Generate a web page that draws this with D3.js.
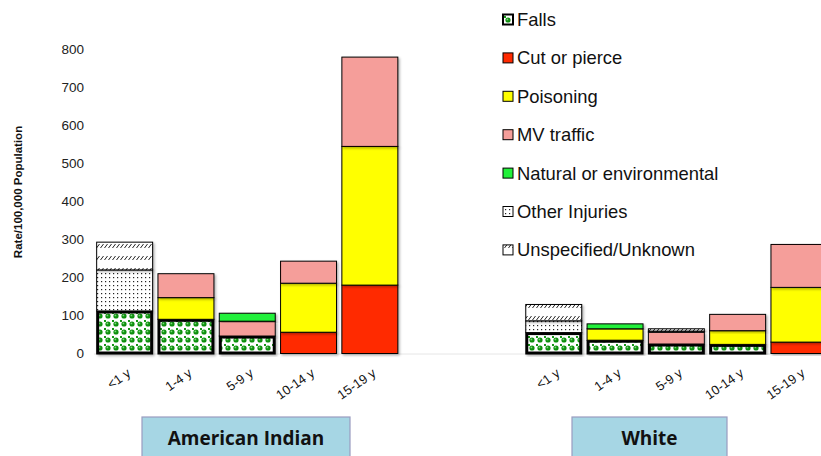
<!DOCTYPE html>
<html><head><meta charset="utf-8">
<script src="https://cdn.jsdelivr.net/npm/d3@7"></script>
<style>body{margin:0;background:#fff}svg{display:block}</style>
</head><body>
<script>
const ageGroups = ["<1 y","1-4 y","5-9 y","10-14 y","15-19 y"];
const populations = ["American Indian","White"];
const seriesNames = ["Falls","Cut or pierce","Poisoning","MV traffic","Natural or environmental","Other Injuries","Unspecified/Unknown"];
// values: 5 American Indian age groups, then 5 White age groups
const falls       = [112, 90, 46,   0,   0,  55, 35, 25, 24,   0];
const cutPierce   = [  0,  0,  0,  56, 180,   0,  0,  0,  0,  30];
const poisoning   = [  0, 57,  0, 129, 365,   0, 30,  0, 36, 144];
const mvTraffic   = [  0, 63, 39,  58, 235,   0,  0, 31, 43, 113];
const natural     = [  0,  0, 21,   0,   0,   0, 13,  0,  0,   0];
const other       = [108,  0,  0,   0,   0,  31,  0,  3,  0,   0];
const unspecified = [ 73,  0,  0,   0,   0,  43,  0,  6,  0,   0];
const yTicks = [0,100,200,300,400,500,600,700,800];

const W = 821, H = 456;
const svg = d3.select("body").append("svg").attr("width", W).attr("height", H);
const defs = svg.append("defs");

// patterns
const pf = defs.append("pattern").attr("id","pFalls").attr("patternUnits","userSpaceOnUse").attr("width",8).attr("height",8);
pf.append("rect").attr("width",8).attr("height",8).attr("fill","#fff");
pf.append("rect").attr("x",0).attr("y",0).attr("width",2).attr("height",2).attr("fill","#129612");
pf.append("circle").attr("cx",4).attr("cy",4).attr("r",2.6).attr("fill","#0f900f");
pf.append("circle").attr("cx",3.4).attr("cy",3.4).attr("r",0.9).attr("fill","#7ad87a");
const po = defs.append("pattern").attr("id","pOther").attr("patternUnits","userSpaceOnUse").attr("width",4).attr("height",4);
po.append("rect").attr("width",4).attr("height",4).attr("fill","#fff");
po.append("rect").attr("x",1).attr("y",1).attr("width",1.2).attr("height",1.2).attr("fill","#222");
const pu = defs.append("pattern").attr("id","pUnspec").attr("patternUnits","userSpaceOnUse").attr("width",4).attr("height",12);
pu.append("rect").attr("width",4).attr("height",12).attr("fill","#fff");
pu.append("line").attr("x1",0.5).attr("y1",8).attr("x2",3.5).attr("y2",4).attr("stroke","#222").attr("stroke-width",1);
const sh = defs.append("filter").attr("id","shadow").attr("x","-10%").attr("y","-10%").attr("width","130%").attr("height","130%");
sh.append("feDropShadow").attr("dx",1.5).attr("dy",1.5).attr("stdDeviation",1).attr("flood-color","#000").attr("flood-opacity",0.3);

const fills = ["url(#pFalls)","#ff2a00","#ffff00","#f59e9a","#22f03a","url(#pOther)","url(#pUnspec)"];
const seriesData = [falls,cutPierce,poisoning,mvTraffic,natural,other,unspecified];

// slots: 5 AI, 2 gap, 5 White
const slots = [];
ageGroups.forEach(a => slots.push("AI|" + a));
slots.push("gap1","gap2");
ageGroups.forEach(a => slots.push("W|" + a));
const barKeys = slots.filter(s => !s.startsWith("gap"));

const x = d3.scaleBand().domain(slots).range([94, 94 + 12*61.3]).paddingInner(0.087).paddingOuter(0.0435);
const y = d3.scaleLinear().domain([0,800]).range([353.5, 49.5]);

const rows = barKeys.map((k,i) => {
  const r = {key:k};
  seriesNames.forEach((s,j) => r[s] = seriesData[j][i]);
  return r;
});
const stacked = d3.stack().keys(seriesNames)(rows);

// baseline
svg.append("line").attr("x1",94).attr("x2",W).attr("y1",y(0)+0.5).attr("y2",y(0)+0.5).attr("stroke","#e6e6e6");

// y axis
const yAxis = svg.append("g").attr("transform","translate(94,0)")
  .call(d3.axisLeft(y).tickValues(yTicks).tickSize(0).tickPadding(10));
yAxis.select(".domain").remove();
yAxis.selectAll("text").attr("font-family","Liberation Sans, Arial, sans-serif").attr("font-size",13.5).attr("fill","#222");

svg.append("text").attr("transform","translate(22,192) rotate(-90)").attr("text-anchor","middle")
  .attr("font-family","Liberation Sans, Arial, sans-serif").attr("font-weight","bold").attr("font-size",11.5).attr("fill","#111")
  .text("Rate/100,000 Population");

// bars
stacked.forEach((ser,j) => {
  svg.append("g").selectAll("rect").data(ser.filter(d => d[1]-d[0] > 0)).join("rect")
    .attr("x", d => x(d.data.key) + (j===0?1:0))
    .attr("width", x.bandwidth() - (j===0?2:0))
    .attr("y", d => y(d[1]) + (j===0?1:0))
    .attr("height", d => y(d[0]) - y(d[1]) - (j===0?1.5:0))
    .attr("fill", fills[j])
    .attr("stroke","#000")
    .attr("stroke-width", j===0 ? 3 : 1)
    .attr("filter","url(#shadow)");
});

// x labels
svg.append("g").selectAll("text").data(barKeys).join("text")
  .attr("transform", d => `translate(${x(d)+x.bandwidth()/2+7},375) rotate(-35)`)
  .attr("text-anchor","end")
  .attr("font-family","Liberation Sans, Arial, sans-serif").attr("font-size",13).attr("fill","#111")
  .text(d => d.split("|")[1]);

// population boxes
const boxes = [{name:populations[0], gx:142, bw:208},{name:populations[1], gx:572, bw:155}];
boxes.forEach(b => {
  svg.append("rect").attr("x",b.gx).attr("y",417).attr("width",b.bw).attr("height",50)
    .attr("fill","#a6d6e4").attr("stroke","#9a9cc0").attr("stroke-width",1.2);
  svg.append("text").attr("x",b.gx+b.bw/2).attr("y",445).attr("text-anchor","middle")
    .attr("font-family","'Open Sans', Lato, sans-serif").attr("font-weight","bold").attr("font-size",19).attr("fill","#111")
    .text(b.name);
});

// legend
const leg = svg.append("g");
seriesNames.forEach((s,i) => {
  const cy = 19.5 + i*38.4;
  leg.append("rect").attr("x",503).attr("y",cy-5).attr("width",10).attr("height",10)
    .attr("fill",fills[i]).attr("stroke","#000").attr("stroke-width", i===0?2:1);
  leg.append("text").attr("x",517).attr("y",cy+6.5).attr("font-family","Liberation Sans, Arial, sans-serif")
    .attr("font-size",18.4).attr("fill","#111").text(s);
});
</script>
</body></html>
